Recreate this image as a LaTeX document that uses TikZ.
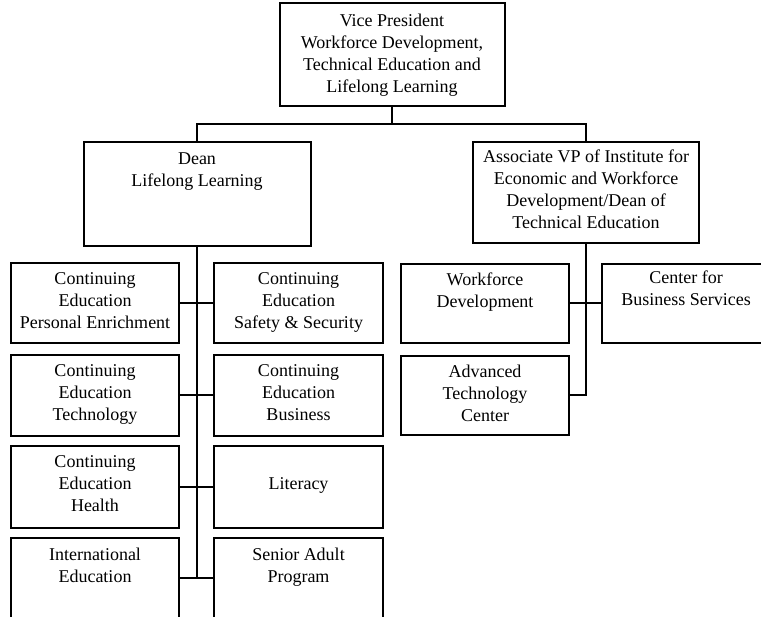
\documentclass[tikz,border=0pt]{standalone}
\usepackage{fontspec}
\setmainfont{Liberation Serif}
\begin{document}
\begin{tikzpicture}[x=1pt,y=-1pt,
  unit/.style={draw, line width=2pt, inner sep=0pt, fill=white},
  caption/.style={anchor=north, align=center, inner sep=0pt,
    font=\fontsize{18}{22}\selectfont, yshift=-10pt},
  link/.style={line width=2pt}]
\useasboundingbox (0,0) rectangle (761,617);
\clip (0,0) rectangle (761,617);

% top level
\node[unit, minimum width=225pt, minimum height=103pt] (vp) at (392,54.5) {};
\node[caption, yshift=-2pt] (vp-t) at (vp.north)
  {Vice President\\Workforce Development,\\Technical Education and\\Lifelong Learning};

% second level
\node[unit, minimum width=227pt, minimum height=104pt] (dean) at (197,194) {};
\node[caption, yshift=-2pt] (dean-t) at (dean.north) {Dean\\Lifelong Learning};

\node[unit, minimum width=226pt, minimum height=101pt] (assoc) at (586,192.5) {};
\node[caption, yshift=1pt] (assoc-t) at (assoc.north)
  {Associate VP of Institute for\\Economic and Workforce\\Development/Dean of\\Technical Education};

% lifelong learning units
\node[unit, minimum width=168pt, minimum height=80pt] (cepe) at (95,303) {};
\node[caption] (cepe-t) at (cepe.north) {Continuing\\Education\\Personal Enrichment};
\node[unit, minimum width=169pt, minimum height=80pt] (cess) at (298.5,303) {};
\node[caption] (cess-t) at (cess.north) {Continuing\\Education\\Safety \& Security};

\node[unit, minimum width=168pt, minimum height=81pt] (cetech) at (95,395.5) {};
\node[caption] (cetech-t) at (cetech.north) {Continuing\\Education\\Technology};
\node[unit, minimum width=169pt, minimum height=81pt] (cebus) at (298.5,395.5) {};
\node[caption] (cebus-t) at (cebus.north) {Continuing\\Education\\Business};

\node[unit, minimum width=168pt, minimum height=82pt] (cehealth) at (95,487) {};
\node[caption] (cehealth-t) at (cehealth.north) {Continuing\\Education\\Health};
\node[unit, minimum width=169pt, minimum height=82pt] (lit) at (298.5,487) {};
\node[caption, yshift=-22pt] (lit-t) at (lit.north) {Literacy};

\node[unit, minimum width=168pt, minimum height=80pt] (intl) at (95,578) {};
\node[caption, yshift=-1pt] (intl-t) at (intl.north) {International\\Education};
\node[unit, minimum width=169pt, minimum height=80pt] (senior) at (298.5,578) {};
\node[caption, yshift=-1pt] (senior-t) at (senior.north) {Senior Adult\\Program};

% technical education units
\node[unit, minimum width=168pt, minimum height=79pt] (wd) at (485,303.5) {};
\node[caption] (wd-t) at (wd.north) {Workforce\\Development};
\node[unit, minimum width=168pt, minimum height=79pt] (cbs) at (686,303.5) {};
\node[caption, yshift=2pt] (cbs-t) at (cbs.north) {Center for\\Business Services};
\node[unit, minimum width=168pt, minimum height=79pt] (atc) at (485,395.5) {};
\node[caption] (atc-t) at (atc.north) {Advanced\\Technology\\Center};

% connectors
\coordinate (bus) at (vp.south |- 0,124);
\draw[link] (vp.south) -- (bus);
\draw[link] (dean.north) |- (bus) -| (assoc.north);
\draw[link] (dean.south) -- (dean.south |- intl.east);
\foreach \a/\b in {cepe/cess, cetech/cebus, cehealth/lit, intl/senior}
  \draw[link] (\a.east) -- (\b.west);
\draw[link] (assoc.south) |- (atc.east);
\draw[link] (wd.east) -- (cbs.west);
\end{tikzpicture}
\end{document}
